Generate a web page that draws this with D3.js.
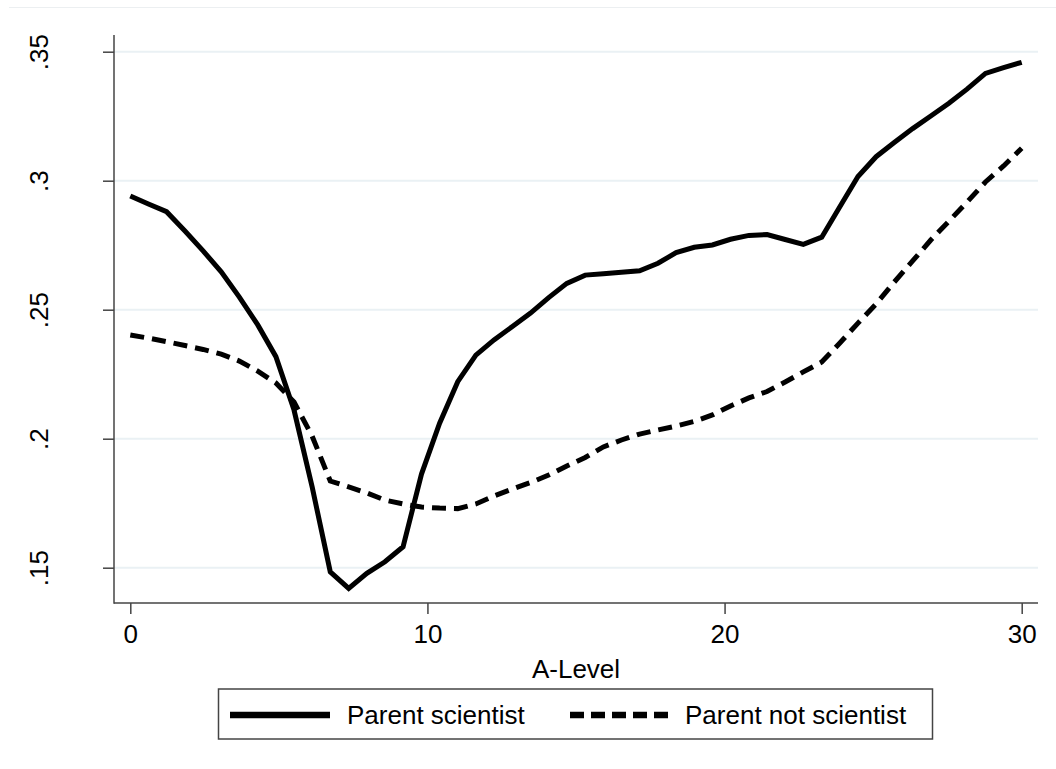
<!DOCTYPE html>
<html>
<head>
<meta charset="utf-8">
<script src="https://cdn.jsdelivr.net/npm/d3@7"></script>
<style>
  html, body { margin: 0; padding: 0; background: #fff; }
  svg { display: block; font-family: "Liberation Sans", Arial, Helvetica, sans-serif; }
</style>
</head>
<body>
<svg id="chart" width="1056" height="769"></svg>
<script>
// ---- data ----
const aLevel = [0, 0.61, 1.22, 1.84, 2.45, 3.06, 3.67, 4.29, 4.90, 5.51,
  6.12, 6.73, 7.35, 7.96, 8.57, 9.18, 9.80, 10.41, 11.02, 11.63,
  12.24, 12.86, 13.47, 14.08, 14.69, 15.31, 15.92, 16.53, 17.14, 17.76,
  18.37, 18.98, 19.59, 20.20, 20.82, 21.43, 22.04, 22.65, 23.27, 23.88,
  24.49, 25.10, 25.71, 26.33, 26.94, 27.55, 28.16, 28.78, 29.39, 30];
const parentScientist = [0.2941, 0.2910, 0.2880, 0.2805, 0.2728, 0.2647, 0.2549, 0.2441, 0.2318, 0.2111,
  0.1813, 0.1484, 0.1420, 0.1478, 0.1523, 0.1581, 0.1863, 0.2060, 0.2221, 0.2324,
  0.2383, 0.2435, 0.2487, 0.2547, 0.2602, 0.2634, 0.2639, 0.2645, 0.2651, 0.2680,
  0.2721, 0.2742, 0.2751, 0.2773, 0.2788, 0.2791, 0.2772, 0.2753, 0.2781, 0.2899,
  0.3016, 0.3093, 0.3148, 0.3202, 0.3251, 0.3300, 0.3355, 0.3416, 0.3438, 0.3459];
const parentNotScientist = [0.2402, 0.2390, 0.2376, 0.2361, 0.2346, 0.2328, 0.2301, 0.2262, 0.2216, 0.2142,
  0.2010, 0.1836, 0.1813, 0.1790, 0.1762, 0.1747, 0.1735, 0.1731, 0.1729, 0.1747,
  0.1778, 0.1805, 0.1830, 0.1859, 0.1894, 0.1927, 0.1968, 0.1995, 0.2018, 0.2034,
  0.2049, 0.2067, 0.2092, 0.2127, 0.2158, 0.2183, 0.2220, 0.2259, 0.2297, 0.2371,
  0.2448, 0.2522, 0.2607, 0.2689, 0.2770, 0.2843, 0.2917, 0.2995, 0.3057, 0.3126];
const yTicks = [0.15, 0.2, 0.25, 0.3, 0.35];
const yTickLabels = [".15", ".2", ".25", ".3", ".35"];
const xTicks = [0, 10, 20, 30];
const xTitle = "A-Level";
const seriesNames = ["Parent scientist", "Parent not scientist"];

// ---- layout ----
const svg = d3.select("#chart");
const FONT = 26;
const plot = { left: 114, right: 1038, top: 35, bottom: 603 };
const x = d3.scaleLinear().domain([0, 30]).range([130.3, 1021.7]);
const y = d3.scaleLinear().domain([0.15, 0.35]).range([567.7, 51.7]);

// faint outer frame (top edge)
svg.append("line").attr("x1", 9).attr("x2", 1056).attr("y1", 7.5).attr("y2", 7.5)
  .attr("stroke", "#eceff1").attr("stroke-width", 1.2);

// gridlines
svg.append("g").selectAll("line").data(yTicks).join("line")
  .attr("x1", plot.left).attr("x2", plot.right)
  .attr("y1", d => y(d)).attr("y2", d => y(d))
  .attr("stroke", "#eaf1f4").attr("stroke-width", 2);

// y axis
const yAxis = d3.axisLeft(y).tickValues(yTicks).tickSize(11).tickSizeOuter(0)
  .tickFormat((d, i) => yTickLabels[i]);
const gy = svg.append("g").attr("transform", `translate(${plot.left},0)`).call(yAxis);
gy.select(".domain").remove();
gy.append("line").attr("x1", 0).attr("x2", 0).attr("y1", plot.top).attr("y2", plot.bottom + 0.7)
  .attr("stroke", "#444").attr("stroke-width", 1.5);
gy.selectAll(".tick line").attr("stroke", "#444").attr("stroke-width", 1.5);
gy.selectAll(".tick text")
  .attr("x", null).attr("dy", null)
  .attr("transform", `translate(${48 - plot.left},0) rotate(-90)`)
  .attr("text-anchor", "middle")
  .attr("font-size", FONT).attr("fill", "#000")
  .attr("font-family", "Liberation Sans, Arial, sans-serif");

// x axis
const xAxis = d3.axisBottom(x).tickValues(xTicks).tickSize(11).tickSizeOuter(0)
  .tickFormat(d3.format("d"));
const gx = svg.append("g").attr("transform", `translate(0,${plot.bottom})`).call(xAxis);
gx.select(".domain").remove();
gx.append("line").attr("x1", plot.left).attr("x2", plot.right).attr("y1", 0).attr("y2", 0)
  .attr("stroke", "#444").attr("stroke-width", 1.5);
gx.selectAll(".tick line").attr("stroke", "#444").attr("stroke-width", 1.5);
gx.selectAll(".tick text")
  .attr("y", 40).attr("dy", null)
  .attr("font-size", FONT).attr("fill", "#000")
  .attr("font-family", "Liberation Sans, Arial, sans-serif");

// x title
svg.append("text").attr("x", (plot.left + plot.right) / 2).attr("y", 677.5)
  .attr("text-anchor", "middle").attr("font-size", FONT).text(xTitle);

// lines
const line = d3.line().x(d => x(d[0])).y(d => y(d[1]));
const s1 = aLevel.map((a, i) => [a, parentScientist[i]]);
const s2 = aLevel.map((a, i) => [a, parentNotScientist[i]]);
svg.append("path").datum(s2).attr("d", line)
  .attr("fill", "none").attr("stroke", "#000").attr("stroke-width", 5)
  .attr("stroke-dasharray", "14 8").attr("stroke-linejoin", "miter");
svg.append("path").datum(s1).attr("d", line)
  .attr("fill", "none").attr("stroke", "#000").attr("stroke-width", 5)
  .attr("stroke-linejoin", "miter");

// legend
const lg = svg.append("g");
lg.append("rect").attr("x", 218.5).attr("y", 689).attr("width", 714).attr("height", 50)
  .attr("fill", "#fff").attr("stroke", "#444").attr("stroke-width", 1.5);
const keys = [
  { x1: 230, x2: 330, tx: 347, dash: null },
  { x1: 570, x2: 670, tx: 685, dash: "14 7" }
];
keys.forEach((k, i) => {
  lg.append("line").attr("x1", k.x1).attr("x2", k.x2).attr("y1", 715).attr("y2", 715)
    .attr("stroke", "#000").attr("stroke-width", 6.5)
    .attr("stroke-dasharray", k.dash);
  lg.append("text").attr("x", k.tx).attr("y", 723.5).attr("font-size", FONT).text(seriesNames[i]);
});
</script>
</body>
</html>
